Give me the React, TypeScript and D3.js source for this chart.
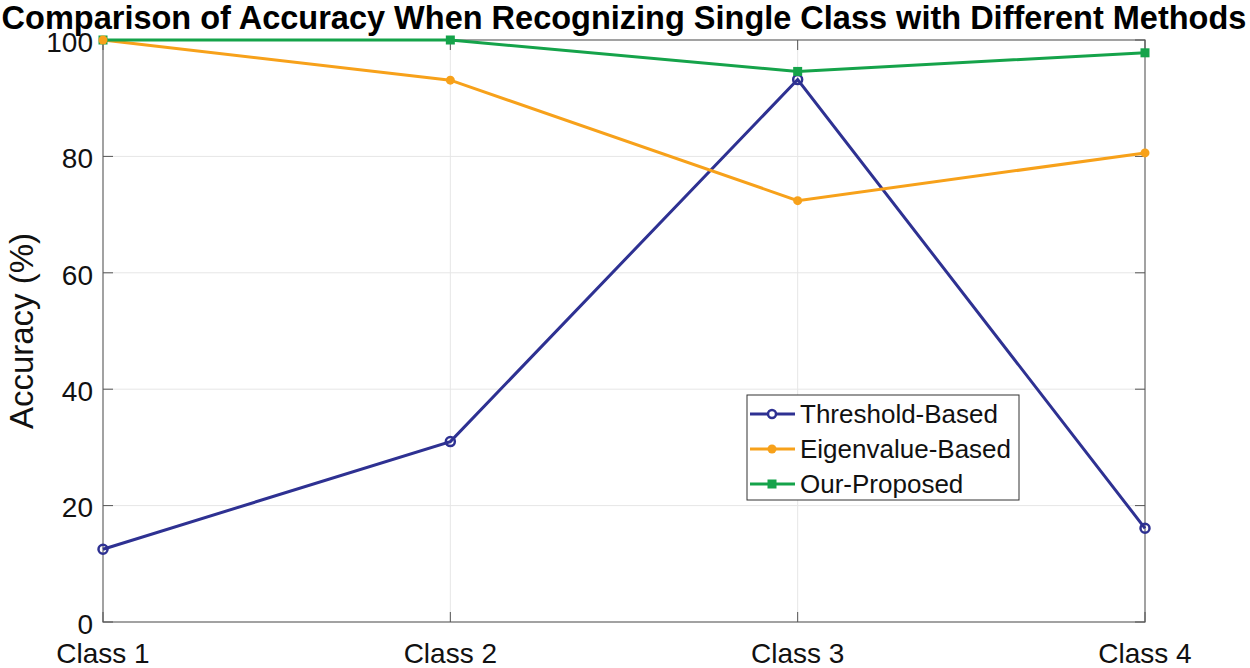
import React from "react";
import * as d3 from "d3";

const categories = ["Class 1", "Class 2", "Class 3", "Class 4"];
const thresholdBased = [12.5, 31.0, 93.2, 16.1];
const eigenvalueBased = [100, 93.1, 72.4, 80.6];
const ourProposed = [100, 100, 94.6, 97.8];
const yTicks = [0, 20, 40, 60, 80, 100];
const seriesNames = ["Threshold-Based", "Eigenvalue-Based", "Our-Proposed"];
const colors = ["#2e3192", "#f7a11a", "#15a34a"];

export default function App() {
  const W = 1250, H = 668;
  const m = { left: 103, right: 1145, top: 40, bottom: 622 };
  const x = d3.scalePoint<string>().domain(categories).range([m.left, m.right]);
  const y = d3.scaleLinear().domain([0, 100]).range([m.bottom, m.top]);
  const font = "Arial, 'Liberation Sans', sans-serif";
  const line = d3.line<number>().x((_, i) => x(categories[i])!).y((d) => y(d));
  const data = [thresholdBased, eigenvalueBased, ourProposed];
  const lx = 747, ly = 395, lw = 272, lh = 105;
  return (
    <svg width={W} height={H} style={{ position: "absolute", left: 0, top: 0 }} fontFamily={font}>
      <rect width={W} height={H} fill="#fff" />
      {yTicks.map((t) => (
        <line key={"gy" + t} x1={m.left} x2={m.right} y1={y(t)} y2={y(t)} stroke="#e6e6e6" strokeWidth={1} />
      ))}
      {categories.map((c) => (
        <line key={"gx" + c} x1={x(c)} x2={x(c)} y1={m.top} y2={m.bottom} stroke="#e6e6e6" strokeWidth={1} />
      ))}
      <rect x={m.left} y={m.top} width={m.right - m.left} height={m.bottom - m.top} fill="none" stroke="#777" strokeWidth={1.3} />
      {yTicks.map((t) => (
        <g key={"ty" + t}>
          <line x1={m.left} x2={m.left + 10} y1={y(t)} y2={y(t)} stroke="#555" />
          <line x1={m.right} x2={m.right - 10} y1={y(t)} y2={y(t)} stroke="#555" />
          <text x={m.left - 10} y={y(t)} dy="0.42em" textAnchor="end" fontSize={28} fill="#111">{t}</text>
        </g>
      ))}
      {categories.map((c) => (
        <g key={"tx" + c}>
          <line x1={x(c)} x2={x(c)} y1={m.bottom} y2={m.bottom - 10} stroke="#555" />
          <line x1={x(c)} x2={x(c)} y1={m.top} y2={m.top + 10} stroke="#555" />
          <text x={x(c)} y={663} textAnchor="middle" fontSize={28} fill="#111">{c}</text>
        </g>
      ))}
      <text transform={`translate(33,${(m.top + m.bottom) / 2}) rotate(-90)`} textAnchor="middle" fontSize={33} fill="#111">Accuracy (%)</text>
      <text x={624} y={29} textAnchor="middle" fontSize={32.5} fontWeight="bold" fill="#000">Comparison of Accuracy When Recognizing Single Class with Different Methods</text>
      {data.map((s, k) => (
        <path key={"l" + k} d={line(s)!} fill="none" stroke={colors[k]} strokeWidth={3} />
      ))}
      {thresholdBased.map((v, i) => (
        <circle key={"m0" + i} cx={x(categories[i])} cy={y(v)} r={4.5} fill="none" stroke={colors[0]} strokeWidth={2.5} />
      ))}
      {ourProposed.map((v, i) => (
        <rect key={"m2" + i} x={x(categories[i])! - 4.5} y={y(v) - 4.5} width={9} height={9} fill={colors[2]} />
      ))}
      {eigenvalueBased.map((v, i) => (
        <circle key={"m1" + i} cx={x(categories[i])} cy={y(v)} r={4.5} fill={colors[1]} />
      ))}
      <rect x={lx} y={ly} width={lw} height={lh} fill="#fff" stroke="#333" strokeWidth={1} />
      {seriesNames.map((n, k) => {
        const yy = ly + 19 + k * 35;
        return (
          <g key={"lg" + k}>
            <line x1={lx + 3} x2={lx + 48} y1={yy} y2={yy} stroke={colors[k]} strokeWidth={3} />
            {k === 0 && <circle cx={lx + 25} cy={yy} r={4} fill="#fff" stroke={colors[0]} strokeWidth={2.5} />}
            {k === 1 && <circle cx={lx + 25} cy={yy} r={4.5} fill={colors[1]} />}
            {k === 2 && <rect x={lx + 20.5} y={yy - 4.5} width={9} height={9} fill={colors[2]} />}
            <text x={lx + 53} y={yy} dy="0.36em" fontSize={26} fill="#111">{n}</text>
          </g>
        );
      })}
    </svg>
  );
}
